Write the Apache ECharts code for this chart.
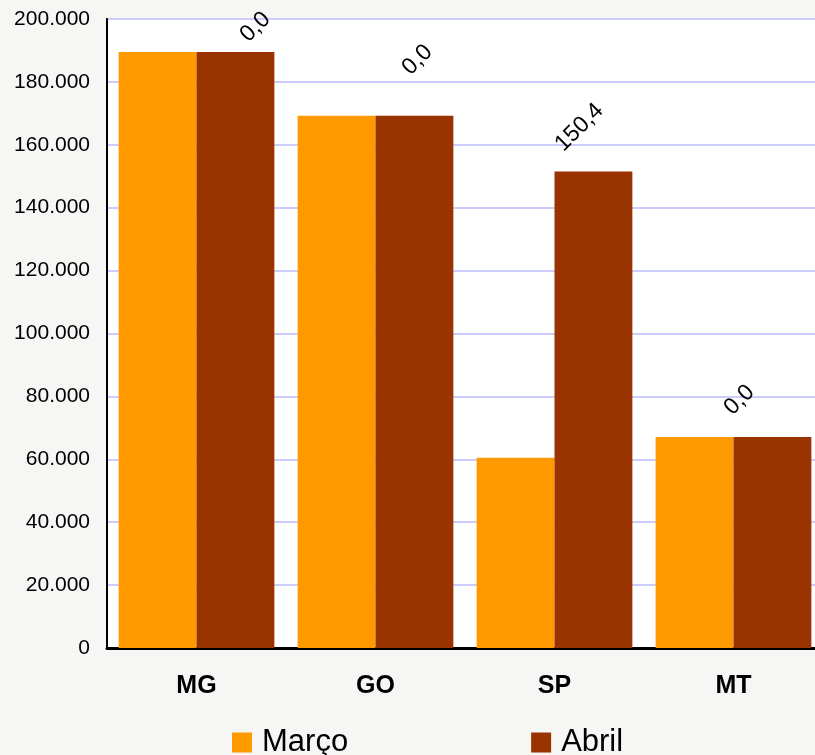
<!DOCTYPE html>
<html>
<head>
<meta charset="utf-8">
<script src="https://cdn.jsdelivr.net/npm/echarts@6/dist/echarts.min.js"></script>
<style>
	html, body { margin: 0; padding: 0; background: #f6f7f4; }
	#chart { width: 815px; height: 755px; }
</style>
</head>
<body>
<div id="chart"></div>
<script>
//////////// 데이터 ////////////
var estados = ['MG', 'GO', 'SP', 'MT'];
var marco = [189500, 169200, 60500, 67100];
var abril = [189500, 169200, 151500, 67100];
var variacao = ['0,0', '0,0', '150,4', '0,0'];

// 라벨 위치 보정 (화면 픽셀, 막대 위 중앙 기준)
var labelShift = [[20, -25], [3, -56], [-14, -44], [-33, -37]];

//////////// 유틸 ////////////
// 천 단위 점
function numberWithDots(x) {
	return x.toString().replace(/\B(?=(\d{3})+(?!\d))/g, ".");
}

// 회전된 라벨 좌표계로 보정값 변환 (45도)
function toLabelOffset(d) {
	var c = Math.SQRT1_2;
	return [c * (d[0] - d[1]), c * (d[0] + d[1])];
}

//////////// 차트 ////////////
var chart = echarts.init(document.getElementById('chart'));

var abrilData = [];
abril.forEach(function(v, i) {
	abrilData.push({
		value: v,
		label: { offset: toLabelOffset(labelShift[i]) }
	});
});

var option = {
	backgroundColor: '#f6f7f4',
	animation: false,
	textStyle: { fontFamily: 'Liberation Sans, Arial, sans-serif' },
	grid: {
		left: 107,
		top: 19,
		right: -8,
		bottom: 107,
		outerBoundsMode: 'none',
		show: true,
		backgroundColor: '#ffffff',
		borderColor: '#000000',
		borderWidth: 2
	},
	legend: {
		data: ['Março', 'Abril'],
		left: 227,
		top: 722,
		icon: 'rect',
		itemWidth: 20,
		itemHeight: 20,
		itemGap: 183,
		textStyle: { fontSize: 31, color: '#000', padding: [0, 0, 0, 5] }
	},
	xAxis: {
		type: 'category',
		data: estados,
		axisLine: { lineStyle: { color: '#000', width: 3 } },
		axisTick: { show: false },
		axisLabel: { fontSize: 25, fontWeight: 'bold', color: '#000', margin: 26 }
	},
	yAxis: {
		type: 'value',
		min: 0,
		max: 200000,
		interval: 20000,
		axisLine: { show: true, lineStyle: { color: '#000', width: 2 } },
		axisTick: { show: false },
		axisLabel: {
			fontSize: 21,
			color: '#000',
			margin: 17,
			formatter: function(v) { return numberWithDots(v); }
		},
		splitLine: { lineStyle: { color: '#ccccff', width: 2 } }
	},
	series: [
		{
			name: 'Março',
			type: 'bar',
			data: marco,
			itemStyle: { color: '#ff9900' },
			barGap: '0%',
			barCategoryGap: '13%'
		},
		{
			name: 'Abril',
			type: 'bar',
			data: abrilData,
			itemStyle: { color: '#993300' },
			label: {
				show: true,
				position: 'top',
				distance: 0,
				rotate: 45,
				align: 'center',
				verticalAlign: 'middle',
				fontSize: 23,
				color: '#000',
				formatter: function(p) { return variacao[p.dataIndex]; }
			}
		}
	]
};

chart.setOption(option);
</script>
</body>
</html>
